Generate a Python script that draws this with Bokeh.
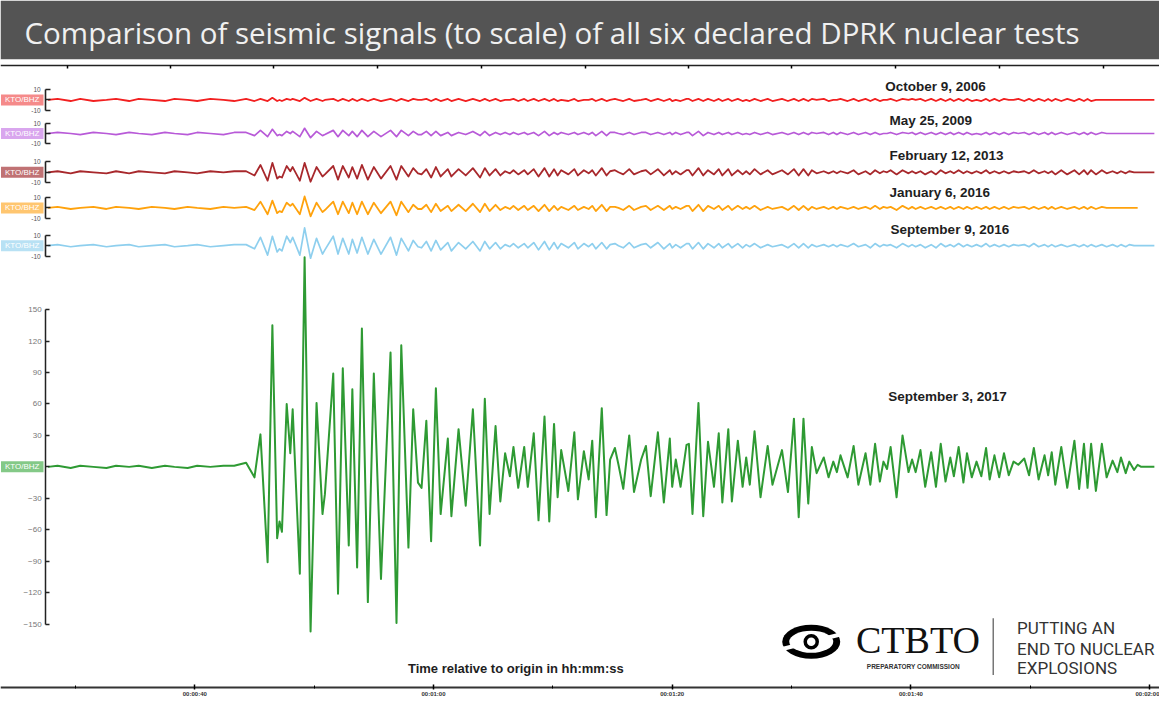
from bokeh.plotting import figure
from bokeh.models import LinearAxis, FixedTicker, Label
from bokeh.embed import file_html
from bokeh.resources import INLINE

# ---------------- data ----------------
# times (s after origin) of the wiggles of the traces, shared by all six records
time_s = [
    27.7, 28.5, 29.6, 30.4, 31.5, 32.6, 33.4, 34.5, 35.3, 36.4,
    37.5, 38.3, 39.4, 40.2, 41.3, 42.4, 43.3, 44.3, 45.0, 45.5,
    46.1, 46.5, 46.9, 47.1, 47.3, 47.7, 48.0, 48.2, 48.8, 49.2,
    49.7, 50.2, 50.7, 50.9, 51.6, 52.0, 52.4, 52.9, 53.2, 53.6,
    54.0, 54.5, 55.0, 55.6, 56.4, 56.9, 57.3, 57.9, 58.3, 58.7,
    59.0, 59.4, 59.8, 60.2, 60.6, 61.2, 61.5, 62.1, 62.7, 63.3,
    63.9, 64.3, 64.7, 65.2, 65.6, 66.0, 66.4, 66.7, 67.1, 67.6,
    67.9, 68.4, 68.8, 69.3, 69.7, 70.1, 70.4, 70.7, 71.3, 71.8,
    72.1, 72.6, 73.0, 73.3, 73.6, 74.1, 74.5, 74.8, 75.2, 75.5,
    75.9, 76.4, 76.8, 77.4, 77.8, 78.2, 78.8, 79.3, 79.8, 80.0,
    80.3, 80.7, 81.2, 81.4, 81.7, 82.2, 82.6, 83.0, 83.5, 83.9,
    84.2, 84.7, 85.0, 85.5, 85.9, 86.2, 86.5, 86.9, 87.4, 88.0,
    88.4, 89.2, 89.7, 90.2, 90.6, 91.0, 91.4, 91.7, 92.1, 92.7,
    93.1, 93.5, 93.8, 94.1, 94.7, 95.2, 95.6, 96.2, 96.6, 97.0,
    97.4, 97.7, 98.0, 98.3, 98.8, 99.3, 99.8, 100.1, 100.4, 100.8,
    101.2, 101.7, 102.1, 102.5, 102.9, 103.3, 103.6, 104.0, 104.4, 104.7,
    105.1, 105.5, 105.9, 106.3, 106.6, 107.0, 107.4, 107.8, 108.2, 108.6,
    109.0, 109.5, 109.9, 110.3, 110.7, 111.2, 111.5, 111.8, 112.1, 112.6,
    113.1, 113.7, 114.1, 114.5, 114.8, 115.1, 115.5, 116.0, 116.4, 116.9,
    117.3, 117.6, 118.0, 118.3, 118.7, 119.0, 119.3, 120.4,
]

amp_2006_10_09 = [
    0, 1, -1, 1, -1, 0, 1, -1, 1, 0,
    -1, 1, 0, -1, 1, 0, -1, 1, -1, 1,
    -1, 2, -1, 0, -1, 1, 0, 1, -1, 2,
    -1, 1, -1, 0, 1, -1, 1, -1, 1, -1,
    1, -1, 1, -1, 1, -1, 1, -1, 1, 0,
    0, 1, -1, 1, -1, 1, -1, 1, -1, 1,
    -1, 1, -1, 1, -1, 0, 0, 1, -1, 1,
    -1, 1, -1, 1, -1, 1, -1, 0, -1, 1,
    -1, 0, 0, 1, -1, 1, -1, 0, 1, 0,
    -1, 1, -1, 0, 1, -1, 1, -1, 1, -1,
    0, -1, 1, 1, -1, 1, -1, 1, -1, 1,
    -1, 1, -1, 1, -1, 0, -1, 1, -1, 1,
    -1, 1, -1, 1, -1, 1, -1, 1, 0, 1,
    -1, 0, 0, 1, -1, 1, -1, 1, -1, 1,
    -1, 0, 0, 1, -1, 1, 0, 1, 0, 1,
    -1, 1, -1, 1, -1, 1, -1, 1, -1, 1,
    -1, 0, -1, 1, -1, 1, -1, 1, 0, 0,
    1, -1, 1, -1, 1, -1, 1, -1, 1, -1,
    1, -1, 1, -1, 1, -1, 0, 0, 0, 0,
    0, 0, 0, 0, 0, 0, 0, 0,
]

amp_2009_05_25 = [
    0, 1, 0, -1, 1, 0, -1, 1, 0, -1,
    1, 0, -1, 1, 0, -1, 1, 1, -2, 3,
    -3, 4, -2, -1, -2, 2, 0, 2, -3, 5,
    -4, 2, -2, -1, 3, -3, 3, -2, 2, -3,
    3, -3, 2, -3, 3, -3, 3, -2, 2, -1,
    -1, 2, -2, 2, -2, 1, -2, 1, -1, 2,
    -2, 2, -2, 1, -1, 1, -1, 1, -1, 1,
    -1, 1, -2, 2, -2, 1, -1, 1, -1, 1,
    -1, 1, -1, 1, -2, 2, -2, 1, 1, 0,
    -1, 1, -1, 1, 1, -1, 1, -1, 1, -1,
    1, -1, 1, 1, -2, 2, -2, 1, -1, 1,
    -1, 1, -1, 1, -1, 0, -1, 1, -1, 1,
    -1, 1, -1, 1, -1, 1, -1, 1, 0, 1,
    -1, 1, -1, 1, -1, 1, -1, 1, -1, 1,
    -1, 0, 0, 1, -1, 1, 0, 1, -1, 1,
    -1, 1, -1, 1, -1, 1, -1, 1, -1, 1,
    -1, 0, -1, 1, -1, 1, -1, 1, -1, 1,
    0, 1, -1, 1, -1, 1, -1, 1, -1, 1,
    -1, 1, -1, 1, -1, 1, -1, 1, 0, 0,
    0, 0, 0, 0, 0, 0, 0, 0,
]

amp_2013_02_12 = [
    0, 1, -1, 1, 0, -1, 1, -1, 1, 0,
    -1, 1, 0, -1, 1, 0, 1, 1, -3, 7,
    -8, 9, -6, -4, -5, 6, 1, 5, -8, 9,
    -9, 5, -4, -2, 6, -7, 6, -5, 5, -6,
    7, -7, 5, -6, 6, -7, 6, -4, 4, -1,
    -2, 3, -5, 5, -4, 3, -4, 3, -3, 4,
    -5, 4, -3, 3, -3, 1, -1, 2, -2, 2,
    -2, 3, -4, 4, -4, 3, -3, 2, -2, 3,
    -3, 2, -1, 2, -3, 4, -3, 1, 2, 0,
    -2, 3, -2, 1, 2, -2, 3, -3, 2, -2,
    1, -2, 2, 2, -3, 4, -3, 2, -2, 3,
    -3, 3, -3, 2, -2, 1, -2, 3, -2, 2,
    -2, 2, -2, 3, -3, 3, -3, 2, -1, 1,
    -1, 1, -1, 1, -1, 2, -2, 1, -2, 2,
    -1, 1, 0, 2, -2, 2, -1, 1, -1, 1,
    -2, 1, -2, 2, -1, 1, -1, 2, -1, 1,
    -1, 1, -1, 2, -1, 1, -1, 1, -1, 1,
    0, 1, -1, 2, -1, 1, -1, 1, -2, 2,
    -2, 2, -2, 2, -2, 2, -2, 2, -1, 1,
    -1, 1, -1, 1, 0, 0, 0, 0,
]

amp_2016_01_06 = [
    0, 1, -1, 0, 1, -1, 1, 0, -1, 1,
    0, -1, 1, 0, -1, 1, 0, 1, -2, 6,
    -6, 7, -5, -3, -4, 5, 2, 4, -6, 11,
    -8, 5, -4, -2, 6, -6, 6, -5, 5, -6,
    6, -6, 5, -5, 6, -7, 6, -4, 3, -1,
    -1, 3, -4, 4, -3, 2, -3, 3, -3, 4,
    -4, 4, -3, 3, -2, 1, -1, 2, -2, 2,
    -2, 2, -3, 3, -3, 2, -2, 1, -2, 2,
    -2, 1, -1, 2, -3, 3, -3, 1, 1, 0,
    -2, 2, -2, 1, 2, -2, 2, -2, 2, -1,
    1, -1, 2, 2, -3, 3, -3, 2, -1, 2,
    -2, 2, -2, 2, -1, 1, -1, 2, -2, 1,
    -1, 1, -2, 2, -2, 2, -2, 1, -1, 1,
    -1, 1, -1, 1, -1, 1, -1, 1, -1, 2,
    -1, 1, 0, 1, -2, 2, -1, 1, -1, 1,
    -1, 1, -1, 1, -1, 1, -1, 1, -1, 1,
    -1, 1, -1, 1, -1, 1, -1, 1, -1, 1,
    0, 1, -1, 1, -1, 1, -1, 1, -1, 1,
    -1, 1, -1, 1, -1, 1, -1, 1, 0, 0,
    0, 0, 0, 0, 0, 0,
]

amp_2016_09_09 = [
    0, 1, -1, 0, 1, -1, 0, 1, -1, 0,
    1, -1, 0, 1, -1, 0, 1, 1, -3, 8,
    -9, 9, -6, -3, -5, 9, 3, 8, -9, 17,
    -12, 7, -8, -4, 9, -8, 7, -8, 6, -7,
    8, -8, 6, -8, 8, -9, 7, -5, 5, -1,
    -2, 4, -5, 5, -4, 3, -5, 3, -3, 4,
    -5, 4, -3, 3, -3, 1, -1, 2, -2, 2,
    -2, 3, -4, 4, -4, 3, -3, 2, -2, 3,
    -3, 2, -1, 2, -3, 3, -3, 1, 2, 0,
    -2, 3, -2, 1, 2, -2, 3, -3, 2, -2,
    1, -2, 2, 2, -3, 3, -3, 2, -2, 2,
    -2, 2, -2, 2, -2, 1, -1, 2, -2, 1,
    -1, 1, -2, 2, -2, 2, -2, 1, -1, 1,
    -1, 1, -1, 1, -1, 2, -1, 1, -2, 2,
    -1, 1, 0, 1, -2, 2, -1, 1, -1, 1,
    -2, 1, -2, 2, -1, 1, -1, 2, -1, 1,
    -1, 1, -1, 2, -1, 1, -1, 1, -1, 1,
    0, 1, -1, 2, -1, 1, -1, 1, -1, 1,
    -1, 1, -1, 1, -1, 1, -1, 1, -1, 1,
    -1, 1, -1, 1, 0, 0, 0, 0,
]

amp_2017_09_03 = [
    0, 1, -1, 1, 0, -1, 1, 0, 1, -1,
    1, 0, -1, 1, 0, 1, 1, 4, -10, 31,
    -91, 135, -68, -52, -62, 60, 13, 55, -102, 200,
    -157, 61, -45, -26, 89, -121, 94, -75, 74, -96,
    132, -129, 89, -107, 109, -149, 116, -77, 55, -15,
    -20, 44, -71, 75, -45, 27, -47, 36, -37, 55,
    -75, 65, -45, 39, -33, 13, -9, 19, -20, 19,
    -19, 32, -51, 48, -52, 41, -29, 16, -23, 33,
    -31, 15, -12, 25, -48, 56, -46, 7, 18, 2,
    -21, 30, -24, 7, 20, -28, 33, -34, 27, -19,
    7, -19, 21, 22, -45, 61, -47, 24, -19, 32,
    -34, 36, -33, 25, -19, 9, -17, 34, -29, 20,
    -17, 16, -24, 46, -48, 46, -35, 19, -6, 9,
    -10, 5, -5, 11, -10, 20, -17, 13, -17, 22,
    -14, 5, -2, 19, -29, 30, -5, 7, -5, 16,
    -19, 14, -19, 22, -14, 9, -9, 19, -15, 13,
    -10, 5, -9, 18, -12, 11, -10, 13, -8, 5,
    2, 8, -8, 18, -12, 11, -8, 14, -17, 19,
    -20, 25, -21, 22, -20, 22, -23, 22, -10, 6,
    -5, 9, -6, 5, -3, 2, 0, 0,
]

test_names = ["October 9, 2006", "May 25, 2009", "February 12, 2013",
              "January 6, 2016", "September 9, 2016", "September 3, 2017"]
station = "KTO/BHZ"
big_ticks = [-150, -120, -90, -60, -30, 0, 30, 60, 90, 120, 150]
small_scale = [-10, 0, 10]
small_scale_labels = ["-10", "", "10"]
time_major = [40, 60, 80, 100, 120]
time_minor = [30, 50, 70, 90, 110]
time_labels = ["00:00:40", "00:01:00", "00:01:20", "00:01:40", "00:02:00"]
top_ticks = [29.3, 38.0, 46.6, 55.3, 64.0, 72.7, 81.4, 90.0, 98.7, 107.4, 116.1]

title_text = "Comparison of seismic signals (to scale) of all six declared DPRK nuclear tests"
x_title = "Time relative to origin in hh:mm:ss"

# ---------------- layout / style ----------------
series = [amp_2006_10_09, amp_2009_05_25, amp_2013_02_12,
          amp_2016_01_06, amp_2016_09_09, amp_2017_09_03]
offsets = [350, 318, 281, 247, 211, 0]
name_y = [362.5, 330.8, 297.3, 261.9, 226.5, 67.1]
name_x = [97.85, 98.2, 98.2, 98.2, 98.3, 98.1]
line_colors = ["#f22020", "#b85ad8", "#a8282c", "#ffa20c", "#8ecfee", "#2e9a33"]
box_colors = ["#f58a8a", "#d9a6ee", "#c07274", "#ffc670", "#b8e1f4", "#84c987"]
line_widths = [1.8, 1.7, 1.8, 1.8, 1.7, 2.0]
AX = 27.5
SANS = "Liberation Sans"

p = figure(width=1159, height=697, x_range=(23.72, 120.83), y_range=(-220, 388.6),
           output_backend="svg", toolbar_location=None,
           x_axis_type=None, y_axis_type=None,
           min_border_left=0, min_border_right=0, min_border_bottom=0, min_border_top=59,
           background_fill_color="white", border_fill_color="#545454",
           outline_line_color=None)

p.title.text = title_text
p.title.text_color = "#f0f0f0"
p.title.text_font = "Open Sans"
p.title.text_font_size = "29.5px"
p.title.text_font_style = "normal"
p.title.align = "left"
p.title.offset = 24
p.title.standoff = 13

# traces
for amps, off, col, lw in zip(series, offsets, line_colors, line_widths):
    xs = time_s[:len(amps)]
    ys = [off + a for a in amps]
    p.line(xs, ys, line_color=col, line_width=lw, line_join="round")

# big (2017) amplitude axis
big_axis = LinearAxis(fixed_location=AX, bounds=(-150, 150),
                      ticker=FixedTicker(ticks=big_ticks, minor_ticks=[]),
                      major_label_overrides={0: ""},
                      axis_line_color="#222222", axis_line_width=1.5,
                      major_tick_in=4, major_tick_out=0,
                      major_tick_line_color="#222222", major_tick_line_width=1.5,
                      minor_tick_line_color=None,
                      major_label_text_font=SANS, major_label_text_font_size="8px",
                      major_label_text_color="#777777", major_label_standoff=4)
p.add_layout(big_axis, "left")

# small scale brackets for the five earlier tests
for off in offsets[:5]:
    ticks = [off + s for s in small_scale]
    ax = LinearAxis(fixed_location=AX, bounds=(off - 10, off + 10),
                    ticker=FixedTicker(ticks=ticks, minor_ticks=[]),
                    major_label_overrides=dict(zip(ticks, small_scale_labels)),
                    axis_line_color="#222222", axis_line_width=1.6,
                    major_tick_in=5, major_tick_out=0,
                    major_tick_line_color="#222222", major_tick_line_width=1.6,
                    minor_tick_line_color=None,
                    major_label_text_font=SANS, major_label_text_font_size="6.5px",
                    major_label_text_color="#555555", major_label_standoff=5)
    p.add_layout(ax, "left")

# station labels
for off, bc in zip(offsets, box_colors):
    p.add_layout(Label(x=23.76, y=off, text=station, text_align="left",
                       text_baseline="middle", text_font=SANS, text_font_size="8px",
                       text_color="white", background_fill_color=bc,
                       padding=dict(left=4, right=4, top=1, bottom=1)))

# test names
for nx, ny, name in zip(name_x, name_y, test_names):
    p.add_layout(Label(x=nx, y=ny, text=name, text_align="left", text_baseline="middle",
                       text_font=SANS, text_font_size="13.5px", text_font_style="bold",
                       text_color="#1e1e1e"))

# time axis (bottom)
time_axis = LinearAxis(fixed_location=-210.6,
                       ticker=FixedTicker(ticks=time_major, minor_ticks=time_minor),
                       major_label_overrides=dict(zip(time_major, time_labels)),
                       axis_line_color="#333333", axis_line_width=2,
                       major_tick_in=3, major_tick_out=2, major_tick_line_width=1.5,
                       minor_tick_in=2, minor_tick_out=1,
                       major_label_text_font=SANS, major_label_text_font_size="6px",
                       major_label_text_font_style="bold", major_label_text_color="#333333",
                       major_label_standoff=1)
p.add_layout(time_axis, "below")

# thin time axis (top)
top_axis = LinearAxis(fixed_location=383,
                      ticker=FixedTicker(ticks=top_ticks, minor_ticks=[]),
                      axis_line_color="#222222", axis_line_width=1.5,
                      major_tick_in=3, major_tick_out=0, major_tick_line_width=1.5,
                      minor_tick_line_color=None, major_label_text_color=None)
p.add_layout(top_axis, "above")

p.add_layout(Label(x=66.9, y=-192, text=x_title, text_align="center", text_baseline="middle",
                   text_font=SANS, text_font_size="13px", text_font_style="bold",
                   text_color="#1e1e1e"))

# CTBTO logo
LX, LY = 91.65, -166.8
p.ellipse(x=[LX], y=[LY], width=58, height=34, width_units="screen", height_units="screen",
          fill_color="black", line_color=None)
p.ellipse(x=[LX], y=[LY], width=44, height=22, width_units="screen", height_units="screen",
          fill_color="white", line_color=None)
p.rect(x=[LX], y=[LY], width=64, height=4, width_units="screen", height_units="screen",
       angle=14, angle_units="deg", fill_color="white", line_color=None)
p.circle(x=[LX], y=[LY], radius=6, radius_units="screen", fill_color="white",
         line_color="black", line_width=3.5)
p.add_layout(Label(x=95.4, y=-165.0, text="CTBTO", text_align="left", text_baseline="middle",
                   text_font="Liberation Serif", text_font_size="38px", text_color="#111111"))
p.add_layout(Label(x=100.2, y=-190.1, text="PREPARATORY COMMISSION", text_align="center",
                   text_baseline="middle", text_font=SANS, text_font_size="6.5px",
                   text_font_style="bold", text_color="#333333"))
p.segment(x0=[106.9], y0=[-144.5], x1=[106.9], y1=[-198.5], line_color="#777777", line_width=1.5)
for ty, tt in zip([-153.8, -173.3, -192.0], ["PUTTING AN", "END TO NUCLEAR", "EXPLOSIONS"]):
    p.add_layout(Label(x=108.9, y=ty, text=tt, text_align="left", text_baseline="middle",
                       text_font="Roboto", text_font_size="17px", text_color="#333333"))

open("out.html", "w").write(file_html(p, INLINE))
